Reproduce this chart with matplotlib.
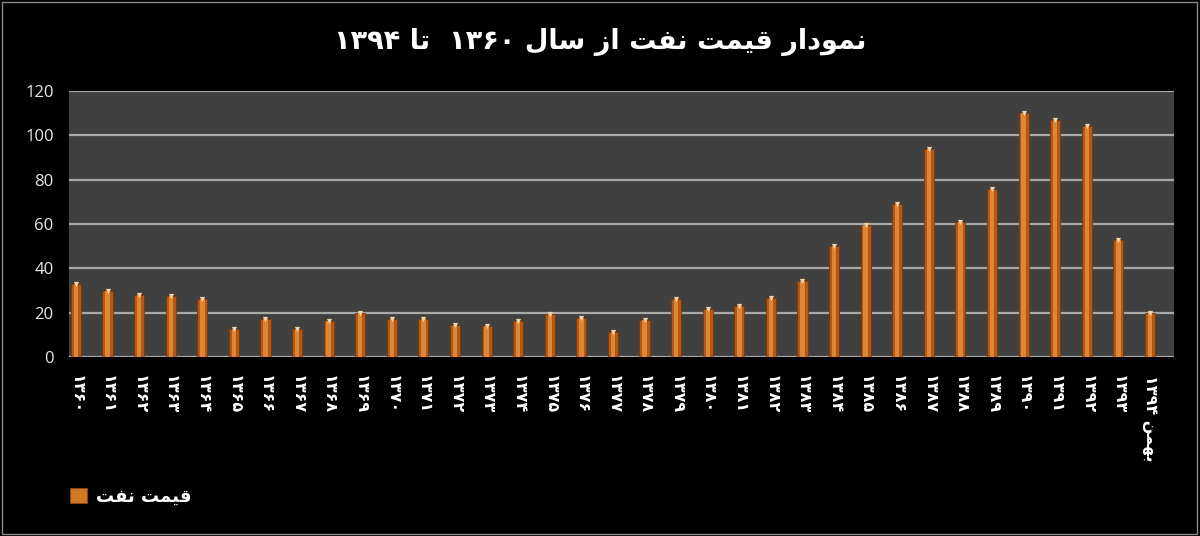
import matplotlib
matplotlib.use('Agg')
import matplotlib.pyplot as plt
from matplotlib.patches import Patch, Rectangle

# ---------------- data ----------------
year_labels = ['۱۳۶۰', '۱۳۶۱', '۱۳۶۲', '۱۳۶۳', '۱۳۶۴', '۱۳۶۵', '۱۳۶۶', '۱۳۶۷',
               '۱۳۶۸', '۱۳۶۹', '۱۳۷۰', '۱۳۷۱', '۱۳۷۲', '۱۳۷۳', '۱۳۷۴', '۱۳۷۵',
               '۱۳۷۶', '۱۳۷۷', '۱۳۷۸', '۱۳۷۹', '۱۳۸۰', '۱۳۸۱', '۱۳۸۲', '۱۳۸۳',
               '۱۳۸۴', '۱۳۸۵', '۱۳۸۶', '۱۳۸۷', '۱۳۸۸', '۱۳۸۹', '۱۳۹۰', '۱۳۹۱',
               '۱۳۹۲', '۱۳۹۳', 'بهمن ۱۳۹۴']
oil_price = [33, 30, 28, 27.3, 26.2, 12.6, 17, 12.8, 16.4, 20, 17, 17,
             14.5, 14.1, 16.2, 19.3, 17.7, 11.2, 16.8, 26.2, 21.8, 22.9, 26.4, 34.4,
             50, 59.6, 69, 94, 61, 76, 110, 107, 104.3, 52.6, 19.7]
y_ticks = [0, 20, 40, 60, 80, 100, 120]
title_text = 'نمودار قیمت نفت از سال ۱۳۶۰  تا ۱۳۹۴'
legend_text = 'قیمت نفت'

# ------------- minimal Arabic/Persian shaping (matplotlib has no RTL layout) -------------
FORMS = {  # isolated, final, initial, medial
    'ا': ('\uFE8D', '\uFE8E', None, None),
    'ب': ('\uFE8F', '\uFE90', '\uFE91', '\uFE92'),
    'ت': ('\uFE95', '\uFE96', '\uFE97', '\uFE98'),
    'د': ('\uFEA9', '\uFEAA', None, None),
    'ر': ('\uFEAD', '\uFEAE', None, None),
    'ز': ('\uFEAF', '\uFEB0', None, None),
    'س': ('\uFEB1', '\uFEB2', '\uFEB3', '\uFEB4'),
    'ف': ('\uFED1', '\uFED2', '\uFED3', '\uFED4'),
    'ق': ('\uFED5', '\uFED6', '\uFED7', '\uFED8'),
    'ل': ('\uFEDD', '\uFEDE', '\uFEDF', '\uFEE0'),
    'م': ('\uFEE1', '\uFEE2', '\uFEE3', '\uFEE4'),
    'ن': ('\uFEE5', '\uFEE6', '\uFEE7', '\uFEE8'),
    'ه': ('\uFEE9', '\uFEEA', '\uFEEB', '\uFEEC'),
    'و': ('\uFEED', '\uFEEE', None, None),
    'ی': ('\uFBFC', '\uFBFD', '\uFEF3', '\uFEF4'),
}


def dual(c):
    return c in FORMS and FORMS[c][2] is not None


def shape(s):
    out = []
    chars = list(s)
    i = 0
    n = len(chars)
    while i < n:
        c = chars[i]
        if c not in FORMS:
            out.append(c)
            i += 1
            continue
        prev = chars[i - 1] if i > 0 else ''
        join_prev = dual(prev)
        # lam-alef ligature
        if c == 'ل' and i + 1 < n and chars[i + 1] == 'ا':
            out.append('\uFEFC' if join_prev else '\uFEFB')
            i += 2
            continue
        nxt = chars[i + 1] if i + 1 < n else ''
        join_next = dual(c) and nxt in FORMS
        iso, fin, ini, med = FORMS[c]
        if join_prev and join_next:
            out.append(med)
        elif join_prev:
            out.append(fin)
        elif join_next:
            out.append(ini)
        else:
            out.append(iso)
        i += 1
    return ''.join(out)


def visual(s):
    sh = shape(s)[::-1]
    # restore left-to-right order of digit runs
    res, run = [], []
    for ch in sh:
        if '\u06F0' <= ch <= '\u06F9' or ch.isdigit():
            run.append(ch)
        else:
            if run:
                res.extend(run[::-1]); run = []
            res.append(ch)
    if run:
        res.extend(run[::-1])
    return ''.join(res)


# ---------------- figure ----------------
plt.rcParams['font.family'] = ['DejaVu Sans']
fig = plt.figure(figsize=(12, 5.36), dpi=100, facecolor='black')
ax = fig.add_axes([0.0575, 0.334, 0.9208, 0.496])
ax.set_facecolor('#404040')

x = list(range(len(oil_price)))
ax.bar(x, oil_price, width=0.32, color='#b25812', edgecolor='#7a3a0a', linewidth=0.6, zorder=3)
ax.bar(x, oil_price, width=0.14, color='#e38c3c', linewidth=0, zorder=4, alpha=0.9)
ax.scatter(x, oil_price, marker='v', s=14, color='#f6d2a8', zorder=5, linewidths=0)

ax.set_xlim(-0.22, len(oil_price) - 0.24)
ax.set_ylim(0, 120)
ax.set_yticks(y_ticks)
ax.set_yticklabels([str(t) for t in y_ticks], color='#e8e8e8', fontsize=12,
                   family=['Open Sans', 'DejaVu Sans'])
ax.yaxis.grid(True, color='#a8a8a8', linewidth=1.6, zorder=1)
ax.set_axisbelow(True)
ax.tick_params(axis='y', length=0, pad=11)
ax.tick_params(axis='x', length=0, pad=13)
ax.set_xticks(x)
ax.set_xticklabels([visual(l) for l in year_labels], rotation=-90, color='white',
                   fontsize=11.5, fontweight='bold', va='top', ha='center')
for sp in ax.spines.values():
    sp.set_visible(False)

fig.text(0.5, 0.921, visual(title_text), ha='center', va='center', color='white',
         fontsize=19.5, fontweight='bold')

handle = Patch(facecolor='#d07828', edgecolor='#8a4510', linewidth=0.8)
leg = fig.legend([handle], [visual(legend_text)], loc='center left',
                 bbox_to_anchor=(0.045, 0.073), frameon=False,
                 handlelength=0.9, handleheight=0.9, handletextpad=0.5,
                 prop={'size': 13, 'weight': 'bold'})
for t in leg.get_texts():
    t.set_color('white')

fig.patches.append(Rectangle((0.0015, 0.003), 0.996, 0.994, transform=fig.transFigure,
                             fill=False, edgecolor='#8a8a8a', linewidth=1))

fig.savefig('out.png', dpi=100, facecolor='black')
